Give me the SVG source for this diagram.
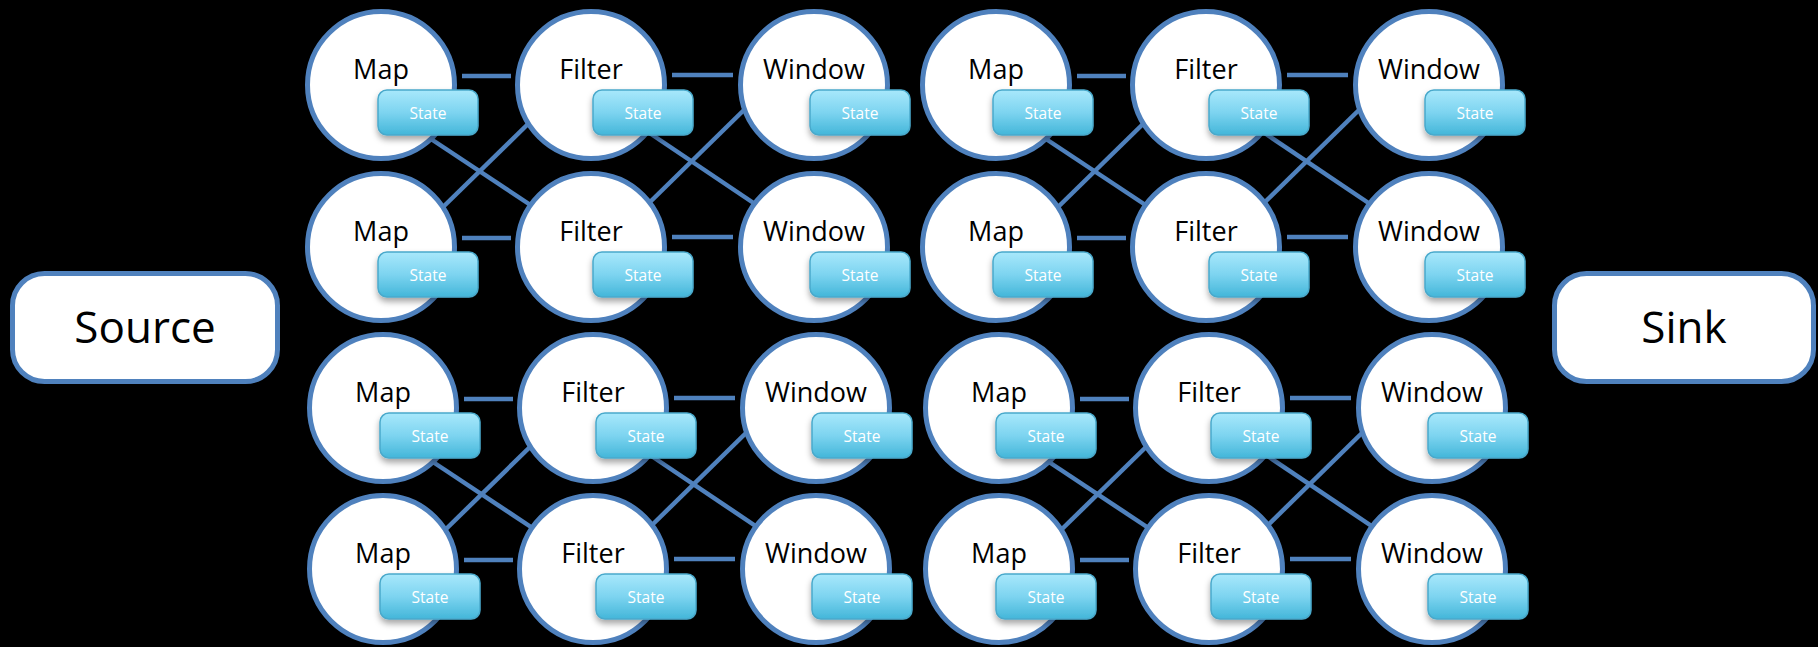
<svg xmlns="http://www.w3.org/2000/svg" width="1818" height="647" viewBox="0 0 1818 647">
<style>
.bg{fill:#000}
.op{fill:#fff;stroke:#4f81bd;stroke-width:5}
.term{fill:#fff;stroke:#4f81bd;stroke-width:5}
.st{fill:url(#sg);stroke:#49a9cb;stroke-width:1.5;filter:url(#sh)}
.lbl{font-family:"Open Sans","Liberation Sans",sans-serif;font-size:27px;fill:#000;text-anchor:middle}
.big{font-family:"Open Sans","Liberation Sans",sans-serif;font-size:44px;fill:#000;text-anchor:middle}
.stt{font-family:"Open Sans","Liberation Sans",sans-serif;font-size:15.5px;fill:#fff;text-anchor:middle}
.conn line{stroke:#4f81bd;stroke-width:4.5;fill:none}
</style>
<defs>
<linearGradient id="sg" x1="0" y1="0" x2="0" y2="1">
<stop offset="0" stop-color="#a8e8fb"/>
<stop offset="0.5" stop-color="#7dd4f0"/>
<stop offset="1" stop-color="#43b6d9"/>
</linearGradient>
<filter id="sh" x="-20%" y="-20%" width="140%" height="160%">
<feDropShadow dx="0" dy="4" stdDeviation="3" flood-color="#000" flood-opacity="0.35"/>
</filter>
</defs>
<rect class="bg" x="0" y="0" width="1818" height="647"/>

<g id="connectors" class="conn">
<line x1="462" y1="76" x2="511" y2="76"/>
<line x1="672" y1="75" x2="733" y2="75"/>
<line x1="462" y1="238" x2="511" y2="238"/>
<line x1="672" y1="237" x2="733" y2="237"/>
<line x1="428" y1="137" x2="532" y2="206"/>
<line x1="441" y1="209" x2="529" y2="123"/>
<line x1="648" y1="132" x2="758" y2="206"/>
<line x1="648" y1="204" x2="746" y2="108"/>
<line x1="1077" y1="76" x2="1126" y2="76"/>
<line x1="1287" y1="75" x2="1348" y2="75"/>
<line x1="1077" y1="238" x2="1126" y2="238"/>
<line x1="1287" y1="237" x2="1348" y2="237"/>
<line x1="1043" y1="137" x2="1147" y2="206"/>
<line x1="1056" y1="209" x2="1144" y2="123"/>
<line x1="1263" y1="132" x2="1373" y2="206"/>
<line x1="1263" y1="204" x2="1361" y2="108"/>
<line x1="464" y1="399" x2="513" y2="399"/>
<line x1="674" y1="398" x2="735" y2="398"/>
<line x1="464" y1="560" x2="513" y2="560"/>
<line x1="674" y1="559" x2="735" y2="559"/>
<line x1="430" y1="460" x2="534" y2="529"/>
<line x1="443" y1="532" x2="531" y2="446"/>
<line x1="650" y1="455" x2="760" y2="529"/>
<line x1="650" y1="527" x2="748" y2="431"/>
<line x1="1080" y1="399" x2="1129" y2="399"/>
<line x1="1290" y1="398" x2="1351" y2="398"/>
<line x1="1080" y1="560" x2="1129" y2="560"/>
<line x1="1290" y1="559" x2="1351" y2="559"/>
<line x1="1046" y1="460" x2="1150" y2="529"/>
<line x1="1059" y1="532" x2="1147" y2="446"/>
<line x1="1266" y1="455" x2="1376" y2="529"/>
<line x1="1266" y1="527" x2="1364" y2="431"/>
</g>

<g id="source"><rect class="term" x="12.5" y="273.5" width="265" height="108" rx="32"/><text class="big" x="145" y="343">Source</text></g>
<g id="sink"><rect class="term" x="1554.5" y="273.5" width="259" height="108" rx="32"/><text class="big" x="1684" y="343">Sink</text></g>

<g id="map1"><circle class="op" cx="381" cy="85" r="73.5"/><text class="lbl" x="381" y="79">Map</text><rect class="st" x="378" y="90" width="100" height="45" rx="9"/><text class="stt" x="428" y="119">State</text></g>
<g id="filter1"><circle class="op" cx="591" cy="85" r="73.5"/><text class="lbl" x="591" y="79">Filter</text><rect class="st" x="593" y="90" width="100" height="45" rx="9"/><text class="stt" x="643" y="119">State</text></g>
<g id="window1"><circle class="op" cx="814" cy="85" r="73.5"/><text class="lbl" x="814" y="79">Window</text><rect class="st" x="810" y="90" width="100" height="45" rx="9"/><text class="stt" x="860" y="119">State</text></g>
<g id="map2"><circle class="op" cx="381" cy="247" r="73.5"/><text class="lbl" x="381" y="241">Map</text><rect class="st" x="378" y="252" width="100" height="45" rx="9"/><text class="stt" x="428" y="281">State</text></g>
<g id="filter2"><circle class="op" cx="591" cy="247" r="73.5"/><text class="lbl" x="591" y="241">Filter</text><rect class="st" x="593" y="252" width="100" height="45" rx="9"/><text class="stt" x="643" y="281">State</text></g>
<g id="window2"><circle class="op" cx="814" cy="247" r="73.5"/><text class="lbl" x="814" y="241">Window</text><rect class="st" x="810" y="252" width="100" height="45" rx="9"/><text class="stt" x="860" y="281">State</text></g>

<g id="map5"><circle class="op" cx="996" cy="85" r="73.5"/><text class="lbl" x="996" y="79">Map</text><rect class="st" x="993" y="90" width="100" height="45" rx="9"/><text class="stt" x="1043" y="119">State</text></g>
<g id="filter5"><circle class="op" cx="1206" cy="85" r="73.5"/><text class="lbl" x="1206" y="79">Filter</text><rect class="st" x="1209" y="90" width="100" height="45" rx="9"/><text class="stt" x="1259" y="119">State</text></g>
<g id="window5"><circle class="op" cx="1429" cy="85" r="73.5"/><text class="lbl" x="1429" y="79">Window</text><rect class="st" x="1425" y="90" width="100" height="45" rx="9"/><text class="stt" x="1475" y="119">State</text></g>
<g id="map6"><circle class="op" cx="996" cy="247" r="73.5"/><text class="lbl" x="996" y="241">Map</text><rect class="st" x="993" y="252" width="100" height="45" rx="9"/><text class="stt" x="1043" y="281">State</text></g>
<g id="filter6"><circle class="op" cx="1206" cy="247" r="73.5"/><text class="lbl" x="1206" y="241">Filter</text><rect class="st" x="1209" y="252" width="100" height="45" rx="9"/><text class="stt" x="1259" y="281">State</text></g>
<g id="window6"><circle class="op" cx="1429" cy="247" r="73.5"/><text class="lbl" x="1429" y="241">Window</text><rect class="st" x="1425" y="252" width="100" height="45" rx="9"/><text class="stt" x="1475" y="281">State</text></g>

<g id="map3"><circle class="op" cx="383" cy="408" r="73.5"/><text class="lbl" x="383" y="402">Map</text><rect class="st" x="380" y="413" width="100" height="45" rx="9"/><text class="stt" x="430" y="442">State</text></g>
<g id="filter3"><circle class="op" cx="593" cy="408" r="73.5"/><text class="lbl" x="593" y="402">Filter</text><rect class="st" x="596" y="413" width="100" height="45" rx="9"/><text class="stt" x="646" y="442">State</text></g>
<g id="window3"><circle class="op" cx="816" cy="408" r="73.5"/><text class="lbl" x="816" y="402">Window</text><rect class="st" x="812" y="413" width="100" height="45" rx="9"/><text class="stt" x="862" y="442">State</text></g>
<g id="map4"><circle class="op" cx="383" cy="569" r="73.5"/><text class="lbl" x="383" y="563">Map</text><rect class="st" x="380" y="574" width="100" height="45" rx="9"/><text class="stt" x="430" y="603">State</text></g>
<g id="filter4"><circle class="op" cx="593" cy="569" r="73.5"/><text class="lbl" x="593" y="563">Filter</text><rect class="st" x="596" y="574" width="100" height="45" rx="9"/><text class="stt" x="646" y="603">State</text></g>
<g id="window4"><circle class="op" cx="816" cy="569" r="73.5"/><text class="lbl" x="816" y="563">Window</text><rect class="st" x="812" y="574" width="100" height="45" rx="9"/><text class="stt" x="862" y="603">State</text></g>

<g id="map7"><circle class="op" cx="999" cy="408" r="73.5"/><text class="lbl" x="999" y="402">Map</text><rect class="st" x="996" y="413" width="100" height="45" rx="9"/><text class="stt" x="1046" y="442">State</text></g>
<g id="filter7"><circle class="op" cx="1209" cy="408" r="73.5"/><text class="lbl" x="1209" y="402">Filter</text><rect class="st" x="1211" y="413" width="100" height="45" rx="9"/><text class="stt" x="1261" y="442">State</text></g>
<g id="window7"><circle class="op" cx="1432" cy="408" r="73.5"/><text class="lbl" x="1432" y="402">Window</text><rect class="st" x="1428" y="413" width="100" height="45" rx="9"/><text class="stt" x="1478" y="442">State</text></g>
<g id="map8"><circle class="op" cx="999" cy="569" r="73.5"/><text class="lbl" x="999" y="563">Map</text><rect class="st" x="996" y="574" width="100" height="45" rx="9"/><text class="stt" x="1046" y="603">State</text></g>
<g id="filter8"><circle class="op" cx="1209" cy="569" r="73.5"/><text class="lbl" x="1209" y="563">Filter</text><rect class="st" x="1211" y="574" width="100" height="45" rx="9"/><text class="stt" x="1261" y="603">State</text></g>
<g id="window8"><circle class="op" cx="1432" cy="569" r="73.5"/><text class="lbl" x="1432" y="563">Window</text><rect class="st" x="1428" y="574" width="100" height="45" rx="9"/><text class="stt" x="1478" y="603">State</text></g>
</svg>
